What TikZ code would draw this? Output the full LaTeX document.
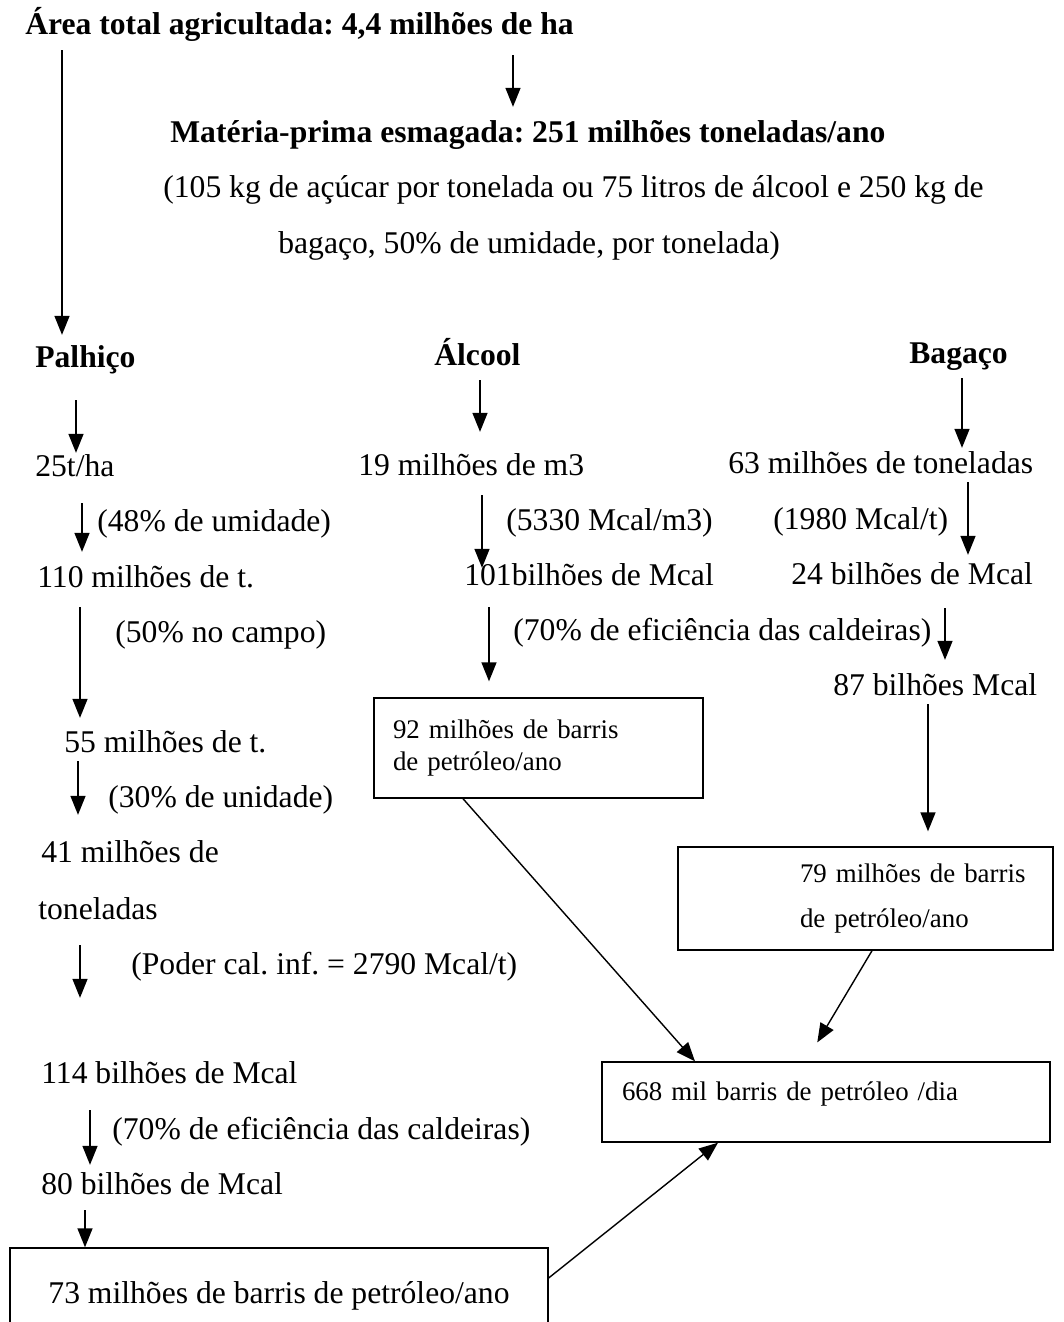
\documentclass[tikz,border=0pt]{standalone}
\usepackage{fontspec}
\setmainfont{Liberation Serif}
\usetikzlibrary{arrows.meta}
\frenchspacing

\tikzset{
  txt/.style={anchor=west, inner sep=0pt, font=\fontsize{18}{21}\selectfont, text height=13.5pt, text depth=4.5pt},
  negrito/.style={txt, font=\fontsize{18}{21}\selectfont\bfseries},
  caixa/.style={draw, line width=0.8pt, align=left, inner ysep=0pt, font=\fontsize{15.3}{18}\selectfont},
  seta/.style={-{Triangle[length=0.38cm,width=0.3cm]}, line width=0.8pt},
}

\begin{document}
\begin{tikzpicture}[x=0.02cm, y=-0.02cm]
\useasboundingbox (0,0) rectangle (1064,1322);

% topo
\node[negrito] (titulo) at (25,27) {Área total agricultada: 4,4 milhões de ha};
\node[negrito] (materia) at (170,135) {Matéria-prima esmagada: 251 milhões toneladas/ano};
\node[txt] (nota1) at (163,190) {(105 kg de açúcar por tonelada ou 75 litros de álcool e 250 kg de};
\node[txt] (nota2) at (278,246) {bagaço, 50\% de umidade, por tonelada)};

% colunas
\node[negrito] (palhico) at (35,360) {Palhiço};
\node[negrito] (alcool) at (434,358) {Álcool};
\node[negrito] (bagaco) at (909,356) {Bagaço};

% palhico
\node[txt] (t25) at (35,469) {25t/ha};
\node[txt] (umid48) at (97,524) {(48\% de umidade)};
\node[txt] (t110) at (37,580) {110 milhões de t.};
\node[txt] (campo50) at (115,635) {(50\% no campo)};
\node[txt] (m55) at (64,745) {55 milhões de t.};
\node[txt] (umid30) at (108,800) {(30\% de unidade)};
\node[txt] (t41) at (41,855) {41 milhões de};
\node[txt] (ton) at (38,912) {toneladas};
\node[txt] (poder) at (131,967) {(Poder cal. inf. = 2790 Mcal/t)};
\node[txt] (mcal114) at (41,1076) {114 bilhões de Mcal};
\node[txt] (efic2) at (112,1132) {(70\% de eficiência das caldeiras)};
\node[txt] (mcal80) at (41,1187) {80 bilhões de Mcal};

% alcool
\node[txt] (m19) at (358,468) {19 milhões de m3};
\node[txt] (m5330) at (506,523) {(5330 Mcal/m3)};
\node[txt] (mcal101) at (464,578) {101bilhões de Mcal};
\node[txt] (efic1) at (513,633) {(70\% de eficiência das caldeiras)};

% bagaco
\node[txt] (t63) at (728,466) {63 milhões de toneladas};
\node[txt] (c1980) at (773,522) {(1980 Mcal/t)};
\node[txt] (mcal24) at (791,577) {24 bilhões de Mcal};
\node[txt] (mcal87) at (833,688) {87 bilhões Mcal};

% caixas
\node[caixa, inner xsep=0.38cm, text width=5.82cm, minimum height=2cm] (box92) at (538.5,748)
  {92 milhões de barris\\ de petróleo/ano};
\node[caixa, inner xsep=0.38cm, text width=6.74cm, minimum height=2.06cm] (box79) at (865.5,898.5)
  {\hspace*{2.06cm}79 milhões de barris\\[8pt]\hspace*{2.06cm}de petróleo/ano};
\node[caixa, inner xsep=0.4cm, text width=8.16cm, text height=0.38cm, text depth=0.46cm, minimum height=1.6cm] (box668) at (826,1102)
  {668 mil barris de petróleo /dia};
\node[caixa, minimum width=10.76cm, minimum height=1.92cm, font=\fontsize{18}{21}\selectfont] (box73) at (279,1296)
  {73 milhões de barris de petróleo/ano};

% setas
\draw[seta, shorten <=0.14cm, shorten >=0.18cm] (titulo.south -| 62,0) -- (palhico.north -| 62,0);
\draw[seta, shorten <=0.24cm, shorten >=0.24cm] (titulo.south -| 513,0) -- (materia.north -| 513,0);
\draw[seta, shorten <=0.48cm] (palhico.south -| 76,0) -- (t25.north -| 76,0);
\draw[seta, shorten <=0.12cm, shorten >=0.4cm] (alcool.south -| 480,0) -- (m19.north -| 480,0);
\draw[seta, shorten <=0.12cm, shorten >=0.04cm] (bagaco.south -| 962,0) -- (t63.north -| 962,0);
\draw[seta, shorten <=0.36cm, shorten >=0.24cm] (t25.south -| 82,0) -- (t110.north -| 82,0);
\draw[seta, shorten <=0.22cm, shorten >=0.22cm] (t110.south -| 80,0) -- (m55.north -| 80,0);
\draw[seta, shorten >=0.48cm] (m55.south -| 78,0) -- (t41.north -| 78,0);
\draw[seta, shorten <=0.34cm, shorten >=1.24cm] (ton.south -| 80,0) -- (mcal114.north -| 80,0);
\draw[seta, shorten <=0.36cm, shorten >=0.12cm] (mcal114.south -| 90,0) -- (mcal80.north -| 90,0);
\draw[seta, shorten <=0.14cm] (mcal80.south -| 85,0) -- (box73.north -| 85,0);
\draw[seta, shorten <=0.22cm, shorten >=-0.12cm] (m19.south -| 482,0) -- (mcal101.north -| 482,0);
\draw[seta, shorten <=0.26cm, shorten >=0.32cm] (mcal101.south -| 489,0) -- (box92.north -| 489,0);
\draw[seta, shorten >=0.12cm] (t63.south -| 968,0) -- (mcal24.north -| 968,0);
\draw[seta, shorten <=0.3cm, shorten >=0.24cm] (mcal24.south -| 945,0) -- (mcal87.north -| 945,0);
\draw[seta, shorten >=0.3cm] (mcal87.south -| 928,0) -- (box79.north -| 928,0);
\draw[seta] (box92.south -| 463,0) -- (box668.north -| 695,0);
\draw[seta, shorten >=0.44cm] (box79.south -| 872,0) -- (box668.north -| 806,0);
\draw[seta] (box73.east |- 0,1278) -- (box668.south -| 718,0);

\end{tikzpicture}
\end{document}
